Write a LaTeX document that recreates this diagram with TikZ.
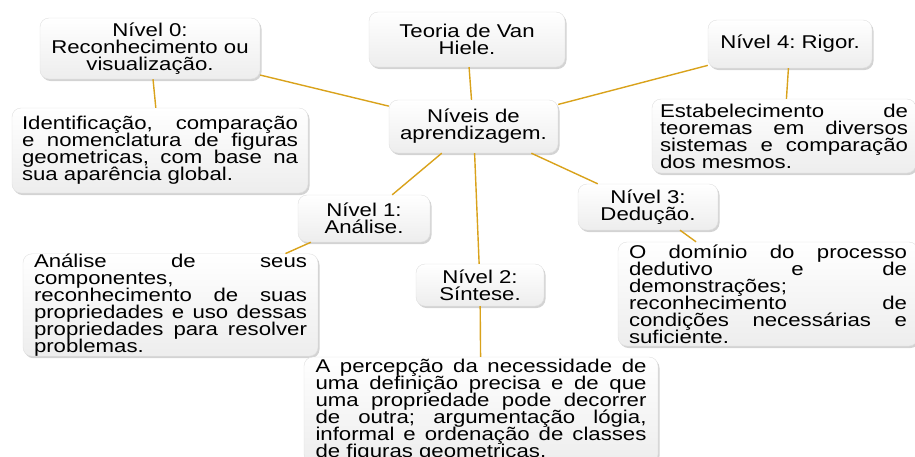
\documentclass[tikz,border=0pt]{standalone}
\usepackage{fontspec}
\setmainfont[FakeStretch=1.2]{Liberation Sans}
\usetikzlibrary{shadows}
\definecolor{linegold}{HTML}{D9A21B}
\newcommand{\jline}[1]{\makebox[\hsize][s]{\spaceskip=.3em plus 1fil\relax #1}}
\newcommand{\boxfont}{\fontsize{18.5}{17}\selectfont\frenchspacing\lineskiplimit=-20pt\relax}

\begin{document}
\begin{tikzpicture}[x=1pt, y=-1pt,
  box/.style={rounded corners=9pt, draw=gray!25, top color=white, bottom color=gray!14,
    drop shadow={shadow xshift=1.5pt, shadow yshift=-2pt, opacity=0.35},
    inner sep=0pt, align=center, font=\boxfont},
  desc/.style={box, align=left},
  link/.style={draw=linegold, line width=1.4pt}]
  \useasboundingbox (0,0) rectangle (915,456);

  \node[box, minimum width=169pt, minimum height=53pt] (niveis) at (473.5,126.5) {Níveis de\\ aprendizagem.};
  \node[box, minimum width=196pt, minimum height=55pt] (teoria) at (467,39.5) {Teoria de Van\\ Hiele.};

  \node[box, minimum width=220pt, minimum height=61pt] (lvl0) at (150,48.5) {Nível 0:\\ Reconhecimento ou\\ visualização.};
  \node[box, minimum width=132pt, minimum height=47pt] (lvl1) at (364,218.5) {Nível 1:\\ Análise.};
  \node[box, minimum width=128pt, minimum height=42pt] (lvl2) at (480,285) {Nível 2:\\ Síntese.};
  \node[box, minimum width=140pt, minimum height=46pt] (lvl3) at (648,207) {Nível 3:\\ Dedução.};
  \node[box, minimum width=164pt, minimum height=48pt] (lvl4) at (790,44) {Nível 4: Rigor.};

  \node[desc, minimum width=296pt, minimum height=85pt, text width=276pt] (desc0) at (160,150.5) {%
    \jline{Identificação, comparação}\\ \jline{e nomenclatura de figuras}\\
    \jline{geometricas, com base na}\\ sua aparência global.};
  \node[desc, minimum width=295pt, minimum height=100pt, text width=273pt] (desc1) at (170.5,305) {%
    \jline{Análise de seus}\\ componentes,\\ \jline{reconhecimento de suas}\\
    \jline{propriedades e uso dessas}\\ \jline{propriedades para resolver}\\ problemas.};
  \node[desc, minimum width=354pt, minimum height=106pt, text width=331pt] (desc2) at (481,410) {%
    \jline{A percepção da necessidade de}\\ \jline{uma definição precisa e de que}\\
    \jline{uma propriedade pode decorrer}\\ \jline{de outra; argumentação lógia,}\\
    \jline{informal e ordenação de classes}\\ de figuras geometricas.};
  \node[desc, minimum width=300pt, minimum height=104pt, text width=278pt] (desc3) at (768,294) {%
    \jline{O domínio do processo}\\ \jline{dedutivo e de}\\ demonstrações;\\
    \jline{reconhecimento de}\\ \jline{condições necessárias e}\\ suficiente.};
  \node[desc, minimum width=264pt, minimum height=74pt, text width=248pt] (desc4) at (784,136) {%
    \jline{Estabelecimento de}\\ \jline{teoremas em diversos}\\
    \jline{sistemas e comparação}\\ dos mesmos.};

  \draw[link] (teoria) -- (niveis);
  \draw[link] (lvl0) -- (niveis);
  \draw[link] (lvl4) -- (niveis);
  \draw[link] (niveis) -- (lvl1);
  \draw[link] (niveis) -- (lvl2);
  \draw[link] (niveis) -- (lvl3);
  \draw[link] (lvl0) -- (desc0);
  \draw[link] (lvl1) -- (desc1);
  \draw[link] (lvl2) -- (desc2);
  \draw[link] (lvl3) -- (desc3);
  \draw[link] (lvl4) -- (desc4);
\end{tikzpicture}
\end{document}
